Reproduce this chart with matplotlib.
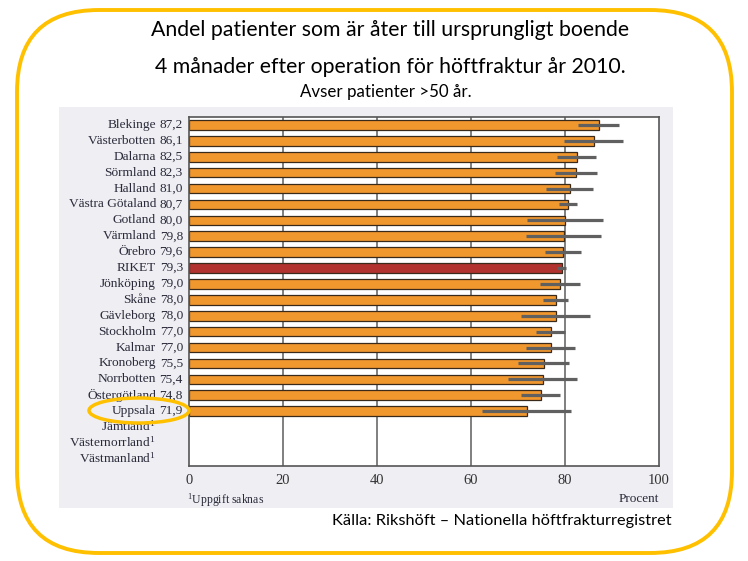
import numpy as np
import matplotlib
matplotlib.use("Agg")
import matplotlib.pyplot as plt
from matplotlib.patches import FancyBboxPatch, Rectangle, Ellipse

regions = ["Blekinge", "Västerbotten", "Dalarna", "Sörmland", "Halland",
           "Västra Götaland", "Gotland", "Värmland", "Örebro", "RIKET",
           "Jönköping", "Skåne", "Gävleborg", "Stockholm", "Kalmar",
           "Kronoberg", "Norrbotten", "Östergötland", "Uppsala"]
missing = ["Jämtland", "Västernorrland", "Västmanland"]
values = [87.2, 86.1, 82.5, 82.3, 81.0, 80.7, 80.0, 79.8, 79.6, 79.3,
          79.0, 78.0, 78.0, 77.0, 77.0, 75.5, 75.4, 74.8, 71.9]
ci_low = [82.8, 79.8, 78.2, 77.9, 76.0, 78.8, 72.0, 71.8, 75.8, 78.3,
          74.7, 75.3, 70.6, 73.8, 71.6, 70.0, 67.9, 70.6, 62.4]
ci_high = [91.5, 92.3, 86.6, 86.8, 86.0, 82.5, 88.1, 87.7, 83.4, 80.3,
           83.1, 80.7, 85.3, 80.0, 82.2, 80.9, 82.6, 78.9, 81.2]
xticks = [0, 20, 40, 60, 80, 100]

orange = "#F0972E"
red = "#B2322F"
yellow = "#FFC000"
serif = "Liberation Serif"
txt = "#2a2a3a"
plt.rcParams["mathtext.fontset"] = "stix"

fig = plt.figure(figsize=(7.48, 5.61), dpi=100)

# overlay in pixel coordinates for frame, panel and titles
bg = fig.add_axes([0, 0, 1, 1], zorder=0)
bg.set_xlim(0, 748)
bg.set_ylim(561, 0)
bg.axis("off")
bg.add_patch(FancyBboxPatch((17, 10), 715, 543, boxstyle="round,pad=0,rounding_size=82",
                            fc="white", ec=yellow, lw=2.8))
bg.add_patch(Rectangle((59, 107), 614, 401, fc="#EEEEF3", ec="none"))

tfont = "Lato"
bg.text(390, 30, "Andel patienter som är åter till ursprungligt boende",
        ha="center", va="center", fontsize=15.3, family=tfont)
bg.text(390, 67, "4 månader efter operation för höftfraktur år 2010.",
        ha="center", va="center", fontsize=15.3, family=tfont)
bg.text(386, 92, "Avser patienter >50 år.", ha="center", va="center",
        fontsize=12.2, family=tfont)
bg.text(672, 521, "Källa: Rikshöft – Nationella höftfrakturregistret",
        ha="right", va="center", fontsize=11.8, family=tfont)

ax = fig.add_axes([189 / 748, 1 - 466 / 561, 470 / 748, 349 / 561], zorder=1)
n = len(regions)
y = np.arange(n)
colors = [red if r == "RIKET" else orange for r in regions]
ax.barh(y, values, height=0.6, color=colors, edgecolor="#3a2a1a", lw=0.9, zorder=2)
ax.hlines(y, ci_low, ci_high, color="#606060", lw=2.3, zorder=3)

for xv in xticks[1:-1]:
    ax.axvline(xv, color="#6a6a6a", lw=1.2, zorder=1)

ax.set_xlim(0, 100)
ax.set_ylim(n + len(missing) - 0.55, -0.5)
ax.set_yticks([])
ax.set_xticks(xticks)
ax.set_xticklabels([str(t) for t in xticks], family=serif, fontsize=10.5, color="#333333")
ax.tick_params(axis="x", length=0, pad=6)
for s in ax.spines.values():
    s.set_color("#555555")
    s.set_linewidth(1.2)

tr = ax.get_yaxis_transform()
for i, (r, v) in enumerate(zip(regions, values)):
    ax.text(-0.0702, i, r, transform=tr, ha="right", va="center",
            family=serif, fontsize=9.6, color=txt)
    ax.text(-0.0128, i, f"{v:.1f}".replace(".", ","), transform=tr, ha="right",
            va="center", family=serif, fontsize=9.6, color=txt)
for j, r in enumerate(missing):
    ax.text(-0.0702, n + j, r + r"$^{\mathregular{1}}$", transform=tr, ha="right",
            va="center", family=serif, fontsize=9.6, color=txt)

ax.text(-0.005, -0.097, r"$^{\mathregular{1}}$Uppgift saknas", transform=ax.transAxes,
        ha="left", va="center", family=serif, fontsize=8.5, color=txt)
ax.text(1.0, -0.095, "Procent", transform=ax.transAxes, ha="right", va="center",
        family=serif, fontsize=9.5, color=txt)

fig.add_artist(Ellipse((139, 410.5), 100, 25, transform=bg.transData, fill=False,
                       ec=yellow, lw=2.5, zorder=5))

fig.savefig("out.png", dpi=100)
